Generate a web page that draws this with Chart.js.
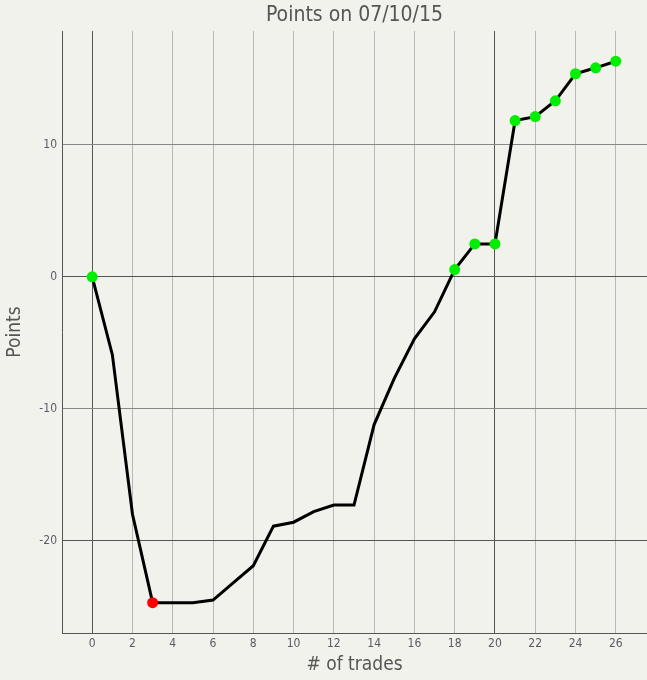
<!DOCTYPE html>
<html>
<head>
<meta charset="utf-8">
<script src="https://cdn.jsdelivr.net/npm/chart.js@4/dist/chart.umd.min.js"></script>
<style>
  html, body { margin: 0; padding: 0; background: #f2f2ed; }
  #wrap { width: 647px; height: 680px; }
</style>
</head>
<body>
<div id="wrap"><canvas id="pointsChart"></canvas></div>
<script>
'use strict'
const trades = [0, 1, 2, 3, 4, 5, 6, 7, 8, 9, 10, 11, 12, 13, 14, 15, 16, 17, 18, 19, 20, 21, 22, 23, 24, 25, 26];
const points = [0, -5.9, -18.0, -24.7, -24.7, -24.7, -24.5, -23.2, -21.9, -18.9, -18.6, -17.8, -17.3, -17.3,
  -11.2, -7.7, -4.7, -2.65, 0.55, 2.5, 2.5, 11.85, 12.15, 13.35, 15.4, 15.85, 16.35];
const highMarks = [0, 18, 19, 20, 21, 22, 23, 24, 25, 26];
const lowMarks = [3];

(function () {
  const font = 'DejaVu Sans Condensed, DejaVu Sans, sans-serif';
  const ctx = document.getElementById('pointsChart').getContext('2d');

  const radius = trades.map(t => (highMarks.includes(t) || lowMarks.includes(t)) ? 5.5 : 0);
  const colors = trades.map(t => lowMarks.includes(t) ? '#ff0000' : '#00ee00');

  const data = {
    datasets: [{
      data: trades.map((t, i) => ({ x: t, y: points[i] })),
      borderColor: '#000000',
      borderWidth: 3,
      tension: 0,
      pointRadius: radius,
      pointHoverRadius: radius,
      pointBackgroundColor: colors,
      pointBorderWidth: 0,
    }],
  };

  const options = {
    animation: false,
    maintainAspectRatio: false,
    responsive: true,
    layout: { autoPadding: false, padding: { left: 0, right: 0, top: 0, bottom: 0 } },
    plugins: {
      legend: { display: false },
      tooltip: { enabled: false },
      title: { display: false },
    },
    scales: {
      // top axis only carries the chart title, centred over the plot area
      x2: {
        type: 'linear',
        position: 'top',
        min: -1.5,
        max: 27.55,
        afterFit: function (scale) { scale.height = 31; },
        border: { display: false },
        grid: { display: false, drawTicks: false },
        ticks: { display: false },
        title: {
          display: true,
          text: 'Points on 07/10/15',
          color: '#555555',
          font: { family: font, size: 21, weight: 'normal' },
          padding: { top: 3, bottom: 3 },
        },
      },
      x: {
        type: 'linear',
        min: -1.5,
        max: 27.55,
        afterFit: function (scale) { scale.height = 47; },
        border: { display: true, color: '#555555', width: 1 },
        grid: {
          drawTicks: false,
          color: function (c) {
            const v = c.tick && c.tick.value;
            return (v === 0 || v === 20) ? '#555555' : '#b8b8b8';
          },
        },
        ticks: {
          stepSize: 2,
          includeBounds: false,
          autoSkip: false,
          maxRotation: 0,
          padding: 4,
          color: '#5a5a66',
          font: { family: font, size: 12 },
        },
        title: {
          display: true,
          text: '# of trades',
          color: '#555555',
          font: { family: font, size: 19 },
          padding: { top: 4 },
        },
      },
      y: {
        min: -27,
        max: 18.64,
        afterFit: function (scale) { scale.width = 62; },
        border: { display: true, color: '#555555', width: 1 },
        grid: {
          drawTicks: false,
          color: function (c) {
            const v = c.tick && c.tick.value;
            return (v === 0 || v === -20) ? '#555555' : '#888888';
          },
        },
        ticks: {
          stepSize: 10,
          includeBounds: false,
          padding: 5,
          color: '#5a5a66',
          font: { family: font, size: 12 },
        },
        title: {
          display: true,
          text: 'Points',
          color: '#555555',
          font: { family: font, size: 19 },
          padding: { bottom: 0 },
        },
      },
    },
  };

  const myChart = new Chart(ctx, {
    type: 'line',
    data: data,
    options: options,
  });
  myChart;
})();
</script>
</body>
</html>
